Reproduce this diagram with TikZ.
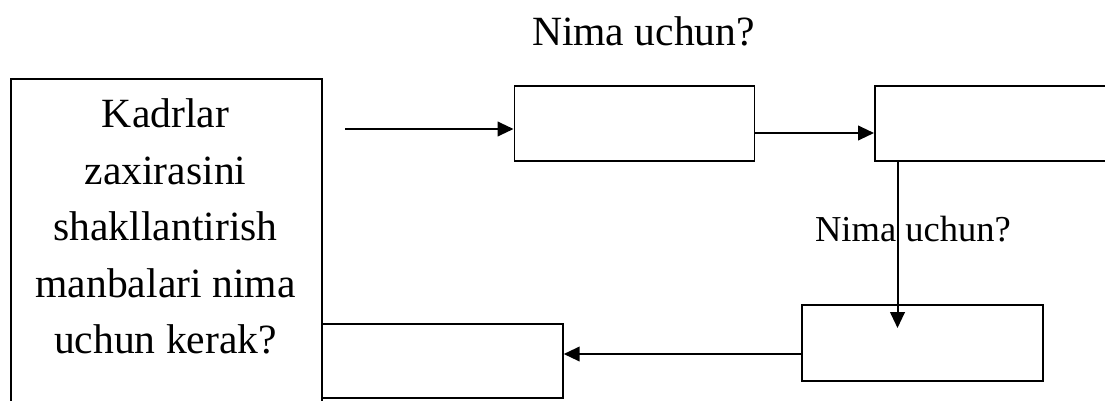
\documentclass[tikz,border=0pt]{standalone}
\usepackage{fontspec}
\setmainfont{Liberation Serif}
\usetikzlibrary{arrows.meta}
\tikzset{
  box/.style={draw, line width=1.3pt, inner sep=0pt, anchor=north west},
  arr/.style={line width=1.5pt, -{Triangle[length=12pt,width=11pt]}},
  lbl/.style={inner sep=0pt, font=\fontsize{31.2}{42.4}\selectfont},
  lbls/.style={inner sep=0pt, font=\fontsize{27.4}{33}\selectfont},
}
\begin{document}
\begin{tikzpicture}[x=0.75pt,y=0.75pt,yscale=-1,xscale=1]
\clip (0,0) rectangle (1105,400);

%Boxes
\node[box, minimum width=233.25pt, minimum height=270pt] (src) at (10,78) {};
\node[lbl, align=center, anchor=north] (srctxt) at (165.5,98.6) {Kadrlar\\zaxirasini\\shakllantirish\\manbalari nima\\uchun kerak?};
\node[box, minimum width=180pt, minimum height=56.25pt] (step1) at (513.5,85) {};
\node[box, minimum width=190pt, minimum height=56.25pt] (step2) at (874,85) {};
\node[box, minimum width=180.75pt, minimum height=57pt] (step3) at (801,304) {};
\node[box, minimum width=180.75pt, minimum height=55.5pt] (step4) at (321,323) {};

%Labels
\node[lbl, anchor=base] (why1) at (643.5,45) {Nima uchun?};
\node[lbls, anchor=base] (why2) at (913,241) {Nima uchun?};

%Arrows
\coordinate (a1) at (345,129);
\coordinate (a2) at (760,133);
\coordinate (a3) at (897.5,328);
\coordinate (a4) at (700,354);
\draw[arr] (a1) -- (a1 -| step1.west);
\draw[arr] (a2 -| step1.east) -- (a2 -| step2.west);
\draw[arr] (a3 |- step2.south) -- (a3);
\draw[arr] (a4 -| step3.west) -- (a4 -| step4.east);

\end{tikzpicture}
\end{document}
